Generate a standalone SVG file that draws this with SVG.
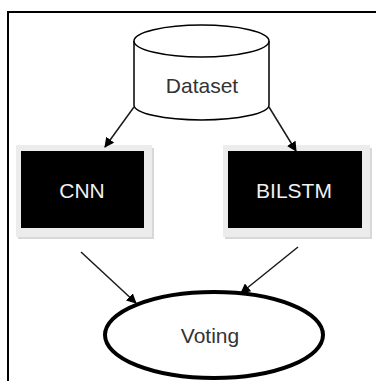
<svg xmlns="http://www.w3.org/2000/svg" width="376" height="381" viewBox="0 0 376 381">
<defs>
<marker id="ah" markerWidth="10" markerHeight="10" refX="9" refY="5" orient="auto" markerUnits="userSpaceOnUse">
<path d="M0,0 L10,5 L0,10 z" fill="#000"/>
</marker>
</defs>
<style>
.lbl{font-family:"Liberation Sans",Arial,sans-serif;font-size:21px;text-anchor:middle}
.dark{fill:#333}
.light{fill:#f0f0f0}
.conn{stroke:#1a1a1a;stroke-width:1.5;fill:none;marker-end:url(#ah)}
.shadow{fill:#ececec}
.shadow2{fill:#d8d8d8}
</style>
<rect x="0" y="0" width="376" height="381" fill="#fff"/>
<rect x="8" y="12" width="400" height="400" fill="none" stroke="#000" stroke-width="2"/>
<g id="dataset">
<path d="M134,41 L134,105 A67.5,15 0 0 0 269,105 L269,41" fill="#fff" stroke="#000" stroke-width="1.5"/>
<ellipse cx="201.5" cy="41" rx="67.5" ry="16" fill="#fff" stroke="#000" stroke-width="1.5"/>
<text class="lbl dark" x="202" y="93">Dataset</text>
</g>
<g id="cnn">
<rect class="shadow2" x="18" y="148" width="136" height="91"/>
<rect class="shadow" x="16" y="145" width="136" height="92"/>
<rect x="21" y="151" width="123" height="77" fill="#000"/>
<text class="lbl light" x="82" y="198">CNN</text>
</g>
<g id="bilstm">
<rect class="shadow2" x="225" y="148" width="147" height="91"/>
<rect class="shadow" x="223" y="145" width="147" height="92"/>
<rect x="228" y="151" width="134" height="77" fill="#000"/>
<text class="lbl light" x="294" y="198">BILSTM</text>
</g>
<g id="voting">
<ellipse cx="214" cy="335" rx="109" ry="43" fill="#fff" stroke="#000" stroke-width="4"/>
<text class="lbl dark" x="210" y="343">Voting</text>
</g>
<g id="connectors">
<line class="conn" x1="134" y1="107" x2="105" y2="147"/>
<line class="conn" x1="269" y1="107" x2="296" y2="151"/>
<line class="conn" x1="81" y1="252" x2="136" y2="303"/>
<line class="conn" x1="298" y1="247" x2="241" y2="293"/>
</g>
</svg>
